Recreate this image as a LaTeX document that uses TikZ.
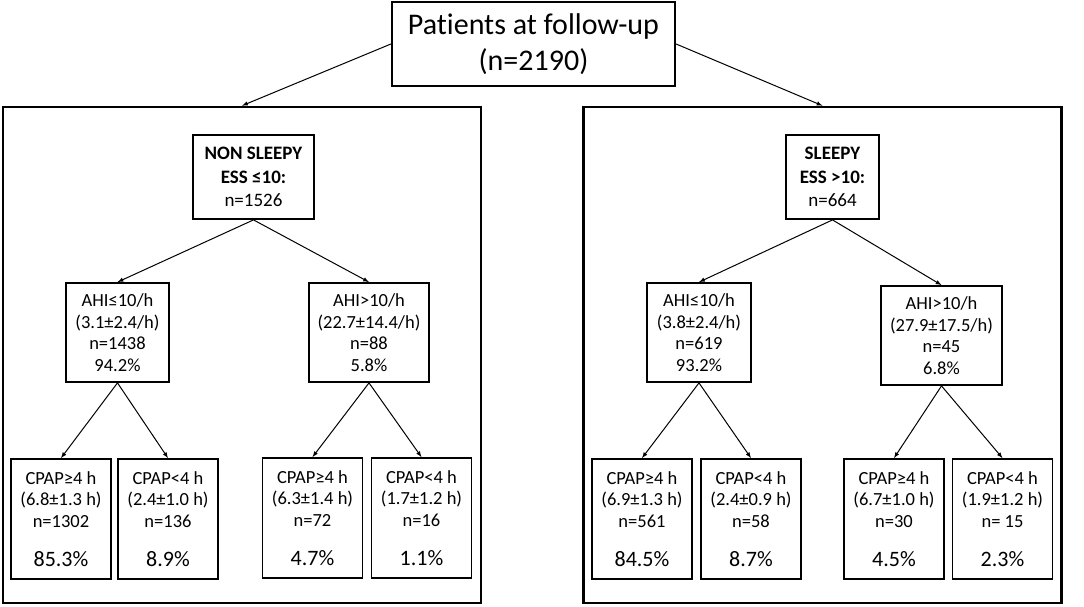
\documentclass[tikz,border=0pt]{standalone}
\usepackage{fontspec}
\setmainfont{Carlito}[Ligatures={NoCommon,NoContextual}]
\newcommand{\bigpct}[1]{\\[18pt]{\fontsize{22}{25}\selectfont #1}}
\begin{document}
\begin{tikzpicture}[x=1pt,y=-1pt,>=latex]
        \tikzstyle{every path}=[line width=1pt]

        \tikzstyle{grp}=[draw,line width=2.6pt,minimum width=478pt,minimum height=496pt]
        \tikzstyle{box}=[draw,line width=1.8pt,align=center,inner sep=0pt]
        \tikzstyle{head}=[box,font=\fontsize{19}{23.5}\selectfont,minimum height=84pt]
        \tikzstyle{ahi}=[box,font=\fontsize{18.5}{21.5}\selectfont,minimum height=99pt]
        \tikzstyle{cpap}=[box,font=\fontsize{18.5}{21.5}\selectfont,minimum width=100pt,minimum height=120pt]

        \useasboundingbox (0,0) rectangle (1084,607);

        \node [box,line width=2.2pt,font=\fontsize{30}{36}\selectfont,minimum width=283pt,minimum height=84pt] (top) at (533.5,44) {Patients at follow-up\\(n=2190)};

        % the two groups
        \node [grp] (lgrp) at (242,355) {};
        \node [grp] (rgrp) at (822.5,355) {};

        \node [head,minimum width=121pt] (ns) at (253.5,177) {\textbf{NON SLEEPY}\\\textbf{ESS ≤10:}\\n=1526};
        \node [head,minimum width=93pt] (sl) at (832.5,177) {\textbf{SLEEPY}\\\textbf{ESS >10:}\\n=664};

        % AHI level
        \node [ahi,minimum width=103pt] (nsA) at (117.5,332.5) {AHI≤10/h\\(3.1±2.4/h)\\n=1438\\94.2\%};
        \node [ahi,minimum width=120pt] (nsB) at (369,332.5) {AHI>10/h\\(22.7±14.4/h)\\n=88\\5.8\%};
        \node [ahi,minimum width=104pt] (slA) at (699,332.5) {AHI≤10/h\\(3.8±2.4/h)\\n=619\\93.2\%};
        \node [ahi,minimum width=121pt] (slB) at (941.5,335.5) {AHI>10/h\\(27.9±17.5/h)\\n=45\\6.8\%};

        % CPAP level
        \node [cpap] (nsA1) at (61,519) {CPAP≥4 h\\(6.8±1.3 h)\\n=1302\bigpct{85.3\%}};
        \node [cpap] (nsA2) at (168,519) {CPAP<4 h\\(2.4±1.0 h)\\n=136\bigpct{8.9\%}};
        \node [cpap] (nsB1) at (312.5,518) {CPAP≥4 h\\(6.3±1.4 h)\\n=72\bigpct{4.7\%}};
        \node [cpap] (nsB2) at (421.5,518) {CPAP<4 h\\(1.7±1.2 h)\\n=16\bigpct{1.1\%}};
        \node [cpap] (slA1) at (642,519) {CPAP≥4 h\\(6.9±1.3 h)\\n=561\bigpct{84.5\%}};
        \node [cpap] (slA2) at (751,519) {CPAP<4 h\\(2.4±0.9 h)\\n=58\bigpct{8.7\%}};
        \node [cpap] (slB1) at (894,519) {CPAP≥4 h\\(6.7±1.0 h)\\n=30\bigpct{4.5\%}};
        \node [cpap] (slB2) at (1002.5,519) {CPAP<4 h\\(1.9±1.2 h)\\n= 15\bigpct{2.3\%}};

        \draw[->] (top.west) to (lgrp.north);
        \draw[->] (top.east) to (rgrp.north);
        \draw[->] (ns.south) to (nsA.north);
        \draw[->] (ns.south) to (nsB.north);
        \draw[->] (sl.south) to (slA.north);
        \draw[->] (sl.south) to (slB.north);
        \draw[->] (nsA.south) to (nsA1.north);
        \draw[->] (nsA.south) to (nsA2.north);
        \draw[->] (nsB.south) to (nsB1.north);
        \draw[->] (nsB.south) to (nsB2.north);
        \draw[->] (slA.south) to (slA1.north);
        \draw[->] (slA.south) to (slA2.north);
        \draw[->] (slB.south) to (slB1.north);
        \draw[->] (slB.south) to (slB2.north);

\end{tikzpicture}
\end{document}
